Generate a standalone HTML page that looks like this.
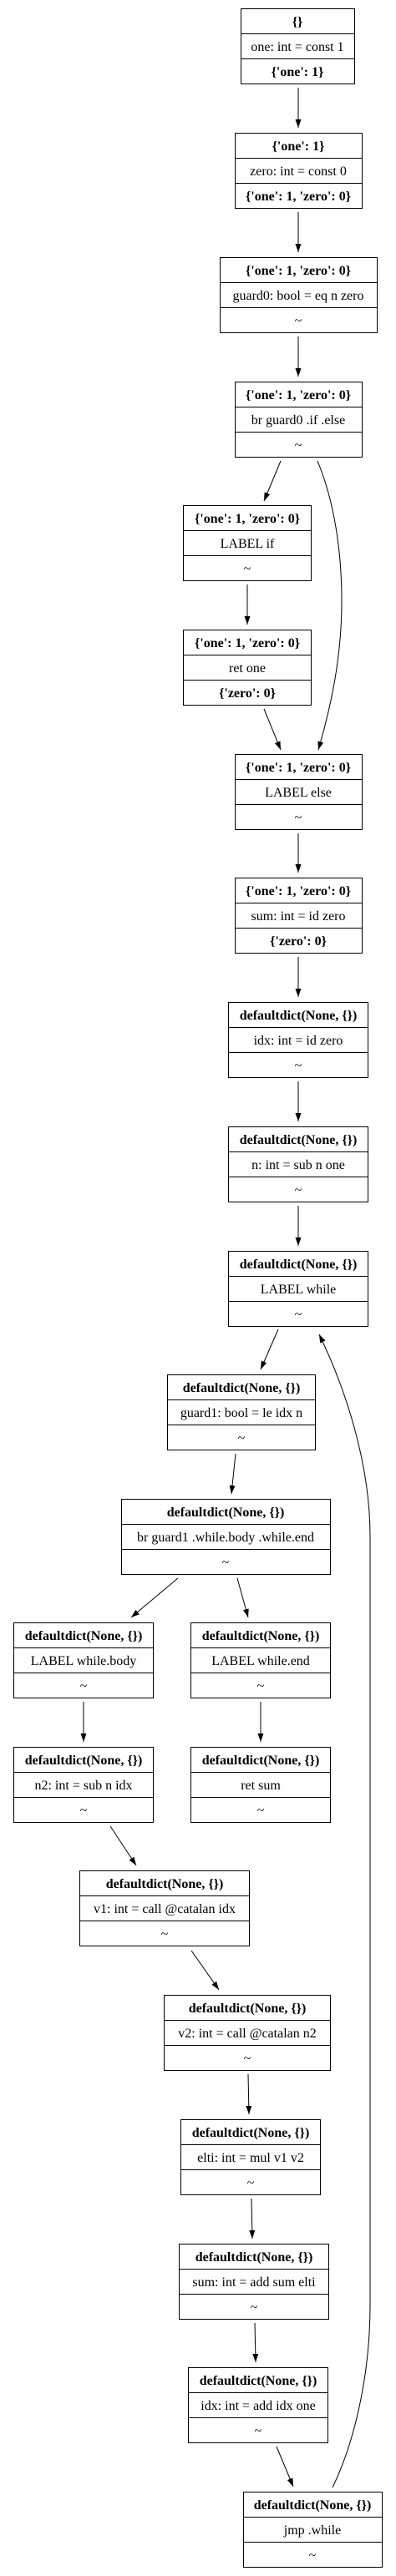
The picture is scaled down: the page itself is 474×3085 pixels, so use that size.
<!DOCTYPE html>
<html><head><meta charset="utf-8"><style>
html,body{margin:0;padding:0;background:#fff}
svg{display:block}
text{font-family:"Liberation Serif",serif;font-size:16px;text-anchor:middle;fill:#000}
.b{font-weight:bold}
rect{fill:none;stroke:#000;stroke-width:1}
line.s,path.e{stroke:#000;stroke-width:1;fill:none}
</style></head><body>
<svg width="474" height="3085" viewBox="0 0 474 3085" xmlns="http://www.w3.org/2000/svg">
<defs>
<marker id="a" markerUnits="userSpaceOnUse" markerWidth="12" markerHeight="8" refX="10" refY="3.5" orient="auto">
<path d="M0,0 L10,3.5 L0,7 Z" fill="#000"/>
</marker>
</defs>
<g transform="translate(0,1)">
<rect x="288.5" y="9.5" width="136" height="90"/><line class="s" x1="288.5" y1="39.5" x2="424.5" y2="39.5"/><line class="s" x1="288.5" y1="69.5" x2="424.5" y2="69.5"/>
<text class="b" x="356" y="30">{}</text><text x="356" y="60">one: int = const 1</text><text class="b" x="356" y="90">{'one': 1}</text>

<rect x="281.5" y="158.5" width="152" height="90"/><line class="s" x1="281.5" y1="188.5" x2="433.5" y2="188.5"/><line class="s" x1="281.5" y1="218.5" x2="433.5" y2="218.5"/>
<text class="b" x="357" y="179">{'one': 1}</text><text x="357" y="209">zero: int = const 0</text><text class="b" x="357" y="239">{'one': 1, 'zero': 0}</text>

<rect x="263.5" y="307.5" width="188" height="90"/><line class="s" x1="263.5" y1="337.5" x2="451.5" y2="337.5"/><line class="s" x1="263.5" y1="367.5" x2="451.5" y2="367.5"/>
<text class="b" x="357" y="328">{'one': 1, 'zero': 0}</text><text x="357" y="358">guard0: bool = eq n zero</text><text x="357" y="388">~</text>

<rect x="281.5" y="456.5" width="152" height="90"/><line class="s" x1="281.5" y1="486.5" x2="433.5" y2="486.5"/><line class="s" x1="281.5" y1="516.5" x2="433.5" y2="516.5"/>
<text class="b" x="357" y="477">{'one': 1, 'zero': 0}</text><text x="357" y="507">br guard0 .if .else</text><text x="357" y="537">~</text>

<rect x="219.5" y="604.5" width="153" height="90"/><line class="s" x1="219.5" y1="634.5" x2="372.5" y2="634.5"/><line class="s" x1="219.5" y1="664.5" x2="372.5" y2="664.5"/>
<text class="b" x="296" y="625">{'one': 1, 'zero': 0}</text><text x="296" y="655">LABEL if</text><text x="296" y="685">~</text>

<rect x="219.5" y="753.5" width="153" height="90"/><line class="s" x1="219.5" y1="783.5" x2="372.5" y2="783.5"/><line class="s" x1="219.5" y1="813.5" x2="372.5" y2="813.5"/>
<text class="b" x="296" y="774">{'one': 1, 'zero': 0}</text><text x="296" y="804">ret one</text><text class="b" x="296" y="834">{'zero': 0}</text>

<rect x="281.5" y="902.5" width="152" height="90"/><line class="s" x1="281.5" y1="932.5" x2="433.5" y2="932.5"/><line class="s" x1="281.5" y1="962.5" x2="433.5" y2="962.5"/>
<text class="b" x="357" y="923">{'one': 1, 'zero': 0}</text><text x="357" y="953">LABEL else</text><text x="357" y="983">~</text>

<rect x="281.5" y="1050.5" width="152" height="90"/><line class="s" x1="281.5" y1="1080.5" x2="433.5" y2="1080.5"/><line class="s" x1="281.5" y1="1110.5" x2="433.5" y2="1110.5"/>
<text class="b" x="357" y="1071">{'one': 1, 'zero': 0}</text><text x="357" y="1101">sum: int = id zero</text><text class="b" x="357" y="1131">{'zero': 0}</text>

<rect x="273.5" y="1199.5" width="167" height="90"/><line class="s" x1="273.5" y1="1229.5" x2="440.5" y2="1229.5"/><line class="s" x1="273.5" y1="1259.5" x2="440.5" y2="1259.5"/>
<text class="b" x="357" y="1220">defaultdict(None, {})</text><text x="357" y="1250">idx: int = id zero</text><text x="357" y="1280">~</text>

<rect x="273.5" y="1348.5" width="167" height="90"/><line class="s" x1="273.5" y1="1378.5" x2="440.5" y2="1378.5"/><line class="s" x1="273.5" y1="1408.5" x2="440.5" y2="1408.5"/>
<text class="b" x="357" y="1369">defaultdict(None, {})</text><text x="357" y="1399">n: int = sub n one</text><text x="357" y="1429">~</text>

<rect x="273.5" y="1497.5" width="167" height="90"/><line class="s" x1="273.5" y1="1527.5" x2="440.5" y2="1527.5"/><line class="s" x1="273.5" y1="1557.5" x2="440.5" y2="1557.5"/>
<text class="b" x="357" y="1518">defaultdict(None, {})</text><text x="357" y="1548">LABEL while</text><text x="357" y="1578">~</text>

<rect x="200.5" y="1645.5" width="177" height="90"/><line class="s" x1="200.5" y1="1675.5" x2="377.5" y2="1675.5"/><line class="s" x1="200.5" y1="1705.5" x2="377.5" y2="1705.5"/>
<text class="b" x="289" y="1666">defaultdict(None, {})</text><text x="289" y="1696">guard1: bool = le idx n</text><text x="289" y="1726">~</text>

<rect x="145.5" y="1794.5" width="250" height="90"/><line class="s" x1="145.5" y1="1824.5" x2="395.5" y2="1824.5"/><line class="s" x1="145.5" y1="1854.5" x2="395.5" y2="1854.5"/>
<text class="b" x="270" y="1815">defaultdict(None, {})</text><text x="270" y="1845">br guard1 .while.body .while.end</text><text x="270" y="1875">~</text>

<rect x="16.5" y="1942.5" width="167" height="90"/><line class="s" x1="16.5" y1="1972.5" x2="183.5" y2="1972.5"/><line class="s" x1="16.5" y1="2002.5" x2="183.5" y2="2002.5"/>
<text class="b" x="100" y="1963">defaultdict(None, {})</text><text x="100" y="1993">LABEL while.body</text><text x="100" y="2023">~</text>

<rect x="228.5" y="1942.5" width="167" height="90"/><line class="s" x1="228.5" y1="1972.5" x2="395.5" y2="1972.5"/><line class="s" x1="228.5" y1="2002.5" x2="395.5" y2="2002.5"/>
<text class="b" x="312" y="1963">defaultdict(None, {})</text><text x="312" y="1993">LABEL while.end</text><text x="312" y="2023">~</text>

<rect x="16.5" y="2091.5" width="167" height="90"/><line class="s" x1="16.5" y1="2121.5" x2="183.5" y2="2121.5"/><line class="s" x1="16.5" y1="2151.5" x2="183.5" y2="2151.5"/>
<text class="b" x="100" y="2112">defaultdict(None, {})</text><text x="100" y="2142">n2: int = sub n idx</text><text x="100" y="2172">~</text>

<rect x="228.5" y="2091.5" width="167" height="90"/><line class="s" x1="228.5" y1="2121.5" x2="395.5" y2="2121.5"/><line class="s" x1="228.5" y1="2151.5" x2="395.5" y2="2151.5"/>
<text class="b" x="312" y="2112">defaultdict(None, {})</text><text x="312" y="2142">ret sum</text><text x="312" y="2172">~</text>

<rect x="95.5" y="2239.5" width="203" height="90"/><line class="s" x1="95.5" y1="2269.5" x2="298.5" y2="2269.5"/><line class="s" x1="95.5" y1="2299.5" x2="298.5" y2="2299.5"/>
<text class="b" x="197" y="2260">defaultdict(None, {})</text><text x="197" y="2290">v1: int = call @catalan idx</text><text x="197" y="2320">~</text>

<rect x="196.5" y="2388.5" width="199" height="90"/><line class="s" x1="196.5" y1="2418.5" x2="395.5" y2="2418.5"/><line class="s" x1="196.5" y1="2448.5" x2="395.5" y2="2448.5"/>
<text class="b" x="296" y="2409">defaultdict(None, {})</text><text x="296" y="2439">v2: int = call @catalan n2</text><text x="296" y="2469">~</text>

<rect x="216.5" y="2537.5" width="167" height="90"/><line class="s" x1="216.5" y1="2567.5" x2="383.5" y2="2567.5"/><line class="s" x1="216.5" y1="2597.5" x2="383.5" y2="2597.5"/>
<text class="b" x="300" y="2558">defaultdict(None, {})</text><text x="300" y="2588">elti: int = mul v1 v2</text><text x="300" y="2618">~</text>

<rect x="214.5" y="2686.5" width="179" height="90"/><line class="s" x1="214.5" y1="2716.5" x2="393.5" y2="2716.5"/><line class="s" x1="214.5" y1="2746.5" x2="393.5" y2="2746.5"/>
<text class="b" x="304" y="2707">defaultdict(None, {})</text><text x="304" y="2737">sum: int = add sum elti</text><text x="304" y="2767">~</text>

<rect x="225.5" y="2834.5" width="167" height="90"/><line class="s" x1="225.5" y1="2864.5" x2="392.5" y2="2864.5"/><line class="s" x1="225.5" y1="2894.5" x2="392.5" y2="2894.5"/>
<text class="b" x="309" y="2855">defaultdict(None, {})</text><text x="309" y="2885">idx: int = add idx one</text><text x="309" y="2915">~</text>

<rect x="291.5" y="2983.5" width="166" height="90"/><line class="s" x1="291.5" y1="3013.5" x2="457.5" y2="3013.5"/><line class="s" x1="291.5" y1="3043.5" x2="457.5" y2="3043.5"/>
<text class="b" x="374" y="3004">defaultdict(None, {})</text><text x="374" y="3034">jmp .while</text><text x="374" y="3064">~</text>
</g>
<g>
<path class="e" marker-end="url(#a)" d="M357,105 L357,153"/>
<path class="e" marker-end="url(#a)" d="M357,254 L357,302"/>
<path class="e" marker-end="url(#a)" d="M357,403 L357,451"/>
<path class="e" marker-end="url(#a)" d="M336,552 L316,600"/>
<path class="e" marker-end="url(#a)" d="M380,552 C400,600 409,660 409,720 C409,790 395,850 381,898"/>
<path class="e" marker-end="url(#a)" d="M296,700 L296,748"/>
<path class="e" marker-end="url(#a)" d="M316,849 L336,898"/>
<path class="e" marker-end="url(#a)" d="M357,998 L357,1045"/>
<path class="e" marker-end="url(#a)" d="M357,1146 L357,1194"/>
<path class="e" marker-end="url(#a)" d="M357,1295 L357,1343"/>
<path class="e" marker-end="url(#a)" d="M357,1444 L357,1492"/>
<path class="e" marker-end="url(#a)" d="M333,1592 L312,1640"/>
<path class="e" marker-end="url(#a)" d="M282,1741 L277,1789"/>
<path class="e" marker-end="url(#a)" d="M213,1890 L157,1937"/>
<path class="e" marker-end="url(#a)" d="M284,1890 L297,1937"/>
<path class="e" marker-end="url(#a)" d="M100,2038 L100,2086"/>
<path class="e" marker-end="url(#a)" d="M312,2038 L312,2086"/>
<path class="e" marker-end="url(#a)" d="M132,2187 L163,2234"/>
<path class="e" marker-end="url(#a)" d="M229,2336 L262,2383"/>
<path class="e" marker-end="url(#a)" d="M297,2484 L298,2532"/>
<path class="e" marker-end="url(#a)" d="M301,2633 L302,2681"/>
<path class="e" marker-end="url(#a)" d="M305,2782 L306,2829"/>
<path class="e" marker-end="url(#a)" d="M331,2930 L351,2978"/>
<path class="e" marker-end="url(#a)" d="M398,2979 C422,2930 443,2850 443,2760 L443,1840 C443,1750 412,1660 382,1598"/>
</g>
</svg>
</body></html>
